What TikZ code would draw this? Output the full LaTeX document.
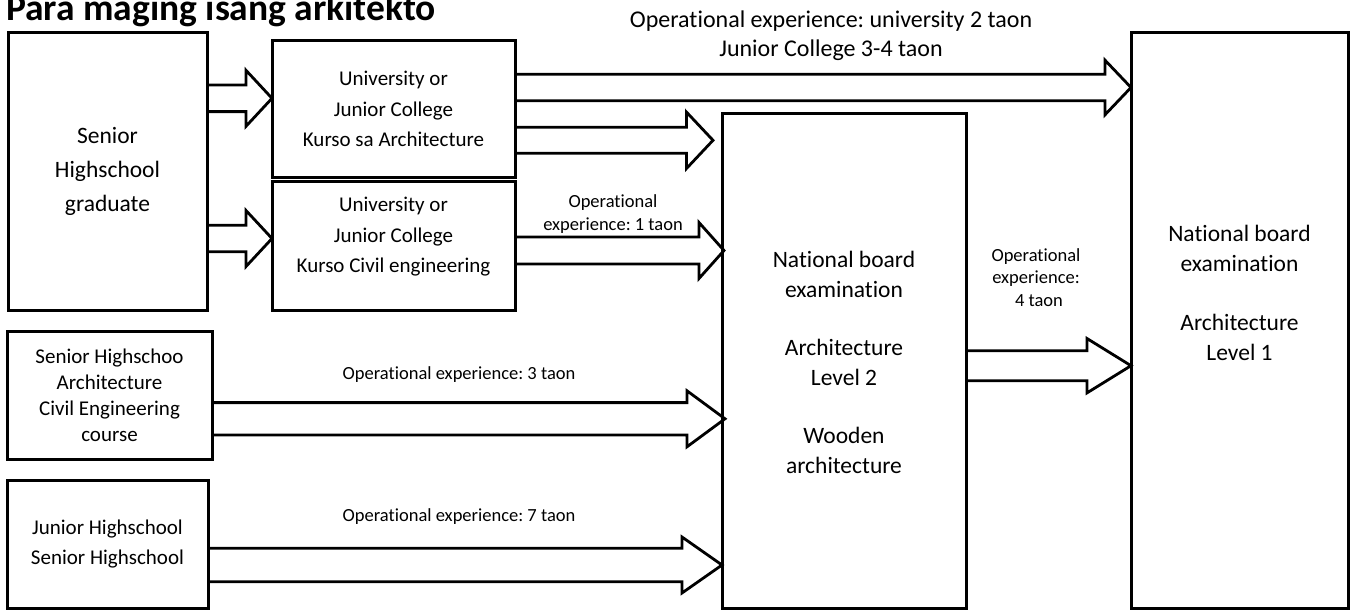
\documentclass[tikz,border=0pt]{standalone}
\usepackage{fontspec}
\setmainfont{Carlito}[Ligatures=NoCommon]
\usetikzlibrary{calc}
\frenchspacing
% block arrow: #1 start, #2 end, #3 shaft half width, #4 head half width, #5 head length, #6 gap before end
\newcommand\blockarr[6]{%
  \draw[arr] let \p1=(#1), \p2=(#2) in
    (\x1,\y1+#3) -- (\x2-#6-#5,\y1+#3) -- (\x2-#6-#5,\y1+#4) -- (\x2-#6,\y1)
    -- (\x2-#6-#5,\y1-#4) -- (\x2-#6-#5,\y1-#3) -- (\x1,\y1-#3);}
\tikzset{
  box/.style={draw, line width=3pt, outer sep=0pt, inner sep=0pt, anchor=north west, align=center},
  arr/.style={line width=2.8pt, line join=miter},
  txt/.style={inner sep=0pt, align=center},
  bigf/.style={font=\fontsize{23.5}{30}\selectfont},
  midf/.style={font=\fontsize{21}{30.5}\selectfont},
  smallf/.style={font=\fontsize{18.5}{23}\selectfont},
}
\begin{document}
\frenchspacing
\begin{tikzpicture}[x=1pt,y=-1pt]
\useasboundingbox (0,0) rectangle (1353,610);
% title
\node[txt, anchor=base west, font=\bfseries\fontsize{37.5}{40}\selectfont] (title) at (6,20.7) {Para maging isang arkitekto};
% boxes
\node[box, minimum width=199pt, minimum height=277pt, font=\fontsize{23.5}{34}\selectfont] (A) at (8,33) {Senior\\Highschool\\graduate};
\node[box, midf, minimum width=243pt, minimum height=136pt] (B1) at (272,41) {University or\\Junior College\\Kurso sa Architecture};
\node[box, minimum width=243pt, minimum height=129pt] (B2) at (272,181) {};
\node[txt, midf] (B2t) at (393.5,237) {University or\\Junior College\\Kurso Civil engineering};
\node[box, minimum width=205pt, minimum height=127.5pt, font=\fontsize{21}{26}\selectfont] (C) at (7,331.5) {Senior Highschoo\\Architecture\\Civil Engineering\\course};
\node[box, midf, minimum width=201pt, minimum height=128pt] (D) at (7,480) {Junior Highschool\\Senior Highschool};
\node[box, minimum width=244pt, minimum height=495pt] (E) at (722,113) {};
\node[txt, bigf] (Et) at (844,362.5) {National board\\examination\\[28pt]Architecture\\Level 2\\[28pt]Wooden\\architecture};
\node[box, minimum width=217pt, minimum height=575pt] (F) at (1131,33) {};
\node[txt, bigf] (Ft) at (1239.5,292.5) {National board\\examination\\[29pt]Architecture\\Level 1};
% labels
\node[txt, font=\fontsize{24}{29}\selectfont] (L1) at (831,35.5) {Operational experience: university 2 taon\\Junior College 3-4 taon};
\node[txt, smallf] (L2) at (613,214.5) {Operational\\experience: 1 taon};
\node[txt, font=\fontsize{18.5}{22.5}\selectfont] (L3) at (1036,277.5) {Operational\\experience:\\\hspace*{6pt}4 taon};
\node[txt, smallf] (L4) at (459,375) {Operational experience: 3 taon};
\node[txt, smallf] (L5) at (459,516.5) {Operational experience: 7 taon};
% arrows
\blockarr{A.east |- 0,98.3}{B1.west |- 0,98.3}{13.3pt}{28pt}{26pt}{0pt}
\blockarr{A.east |- 0,238.5}{B2.west |- 0,238.5}{13.3pt}{28pt}{26pt}{0pt}
\blockarr{B1.east |- 0,87.5}{F.west |- 0,87.5}{13.2pt}{27.3pt}{26pt}{0pt}
\blockarr{B1.east |- 0,140.3}{E.west |- 0,140.3}{13pt}{28.3pt}{26.6pt}{9pt}
\blockarr{B2.east |- 0,250.5}{E.west |- 0,250.5}{13.5pt}{28pt}{25pt}{-2pt}
\blockarr{C.east |- 0,418.8}{E.west |- 0,418.8}{16.2pt}{28pt}{38pt}{-3pt}
\blockarr{D.east |- 0,565}{E.west |- 0,565}{16.7pt}{28pt}{40pt}{0pt}
\blockarr{E.east |- 0,365.7}{F.west |- 0,365.7}{15pt}{27.2pt}{44pt}{0pt}
\end{tikzpicture}
\end{document}
